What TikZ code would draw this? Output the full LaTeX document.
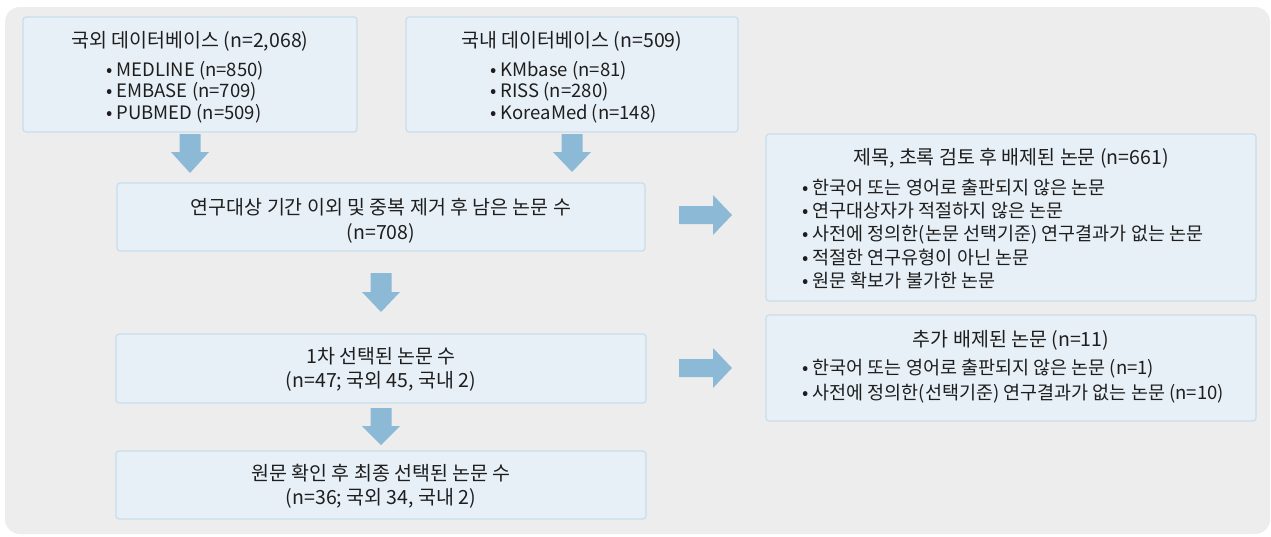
\documentclass[tikz,border=0pt]{standalone}
\usepackage{fontspec}
\setmainfont{Noto Sans CJK KR}
\definecolor{bgc}{HTML}{EDEDED}
\definecolor{boxfill}{HTML}{E8F0F7}
\definecolor{boxline}{HTML}{C8DDEC}
\definecolor{arrowc}{HTML}{8CBAD6}
\definecolor{txt}{HTML}{1E1E1E}
\tikzset{
  boxstyle/.style={draw=boxline, line width=1.2pt, fill=boxfill, rounded corners=3pt},
  ttl/.style={inner sep=0pt, text=txt, font=\fontsize{19.5}{21}\selectfont},
  bul/.style={inner sep=0pt, anchor=west, text=txt, font=\fontsize{18.5}{20}\selectfont},
  blk/.style={fill=arrowc}
}
\begin{document}
\begin{tikzpicture}[x=1pt,y=-1pt]
\useasboundingbox (0,0) rectangle (1271,536);
\fill[white] (0,0) rectangle (1271,536);
\fill[bgc, rounded corners=15pt] (5,7) rectangle (1270,534);

% boxes
\draw[boxstyle] (23,17) rectangle (357,132);
\draw[boxstyle] (406,17) rectangle (738,132);
\draw[boxstyle] (117,183) rectangle (645,251);
\draw[boxstyle] (116,334) rectangle (646,403);
\draw[boxstyle] (116,451) rectangle (646,519);
\draw[boxstyle] (766,134) rectangle (1256,301);
\draw[boxstyle] (766,315) rectangle (1256,421);

% box 1
\node[ttl] (t1) at (190,41) {국외 데이터베이스 (n=2,068)};
\node[bul] (t1a) at (106,71) {• MEDLINE (n=850)};
\node[bul] (t1b) at (106,92) {• EMBASE (n=709)};
\node[bul] (t1c) at (106,114) {• PUBMED (n=509)};
% box 2
\node[ttl] (t2) at (572,41) {국내 데이터베이스 (n=509)};
\node[bul] (t2a) at (490,71) {• KMbase (n=81)};
\node[bul] (t2b) at (490,92) {• RISS (n=280)};
\node[bul] (t2c) at (490,114) {• KoreaMed (n=148)};
% box 3
\node[ttl] (t3) at (381,207) {연구대상 기간 이외 및 중복 제거 후 남은 논문 수};
\node[ttl] (t3b) at (381,233) {(n=708)};
% box 4
\node[ttl] (t4) at (381,356) {1차 선택된 논문 수};
\node[ttl] (t4b) at (381,381) {(n=47; 국외 45, 국내 2)};
% box 5
\node[ttl] (t5) at (381,473) {원문 확인 후 최종 선택된 논문 수};
\node[ttl] (t5b) at (381,498) {(n=36; 국외 34, 국내 2)};
% box 6
\node[ttl] (t6) at (1011,158) {제목, 초록 검토 후 배제된 논문 (n=661)};
\node[bul] (t6a) at (802,188) {• 한국어 또는 영어로 출판되지 않은 논문};
\node[bul] (t6b) at (802,211) {• 연구대상자가 적절하지 않은 논문};
\node[bul] (t6c) at (802,235) {• 사전에 정의한(논문 선택기준) 연구결과가 없는 논문};
\node[bul] (t6d) at (802,258) {• 적절한 연구유형이 아닌 논문};
\node[bul] (t6e) at (802,281) {• 원문 확보가 불가한 논문};
% box 7
\node[ttl] (t7) at (1011,340) {추가 배제된 논문 (n=11)};
\node[bul] (t7a) at (802,369) {• 한국어 또는 영어로 출판되지 않은 논문 (n=1)};
\node[bul] (t7b) at (802,394) {• 사전에 정의한(선택기준) 연구결과가 없는 논문 (n=10)};

% down arrows
\fill[blk] (179.5,134) -- (200.5,134) -- (200.5,152) -- (209,152) -- (190,173) -- (171,152) -- (179.5,152) -- cycle;
\fill[blk] (561.5,134) -- (582.5,134) -- (582.5,152) -- (591,152) -- (572,172) -- (553,152) -- (561.5,152) -- cycle;
\fill[blk] (370.5,273) -- (391.5,273) -- (391.5,292) -- (400,292) -- (381,312) -- (362,292) -- (370.5,292) -- cycle;
\fill[blk] (370.5,408) -- (391.5,408) -- (391.5,426) -- (400,426) -- (381,445) -- (362,426) -- (370.5,426) -- cycle;
% right arrows
\fill[blk] (679,206) -- (713,206) -- (713,195) -- (732,215) -- (713,235) -- (713,224) -- (679,224) -- cycle;
\fill[blk] (679,359) -- (713,359) -- (713,348) -- (732,368) -- (713,388) -- (713,377) -- (679,377) -- cycle;
\end{tikzpicture}
\end{document}
